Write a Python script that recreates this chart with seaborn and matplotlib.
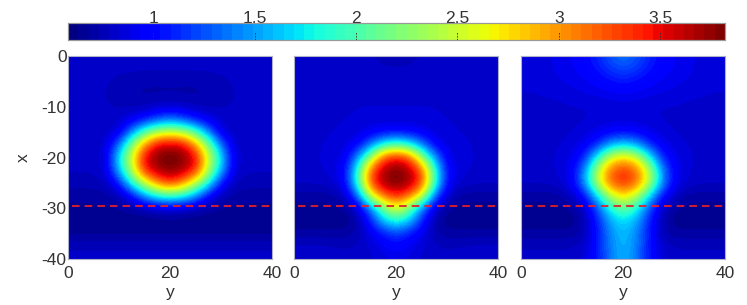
import numpy as np
import matplotlib
matplotlib.use('Agg')
import matplotlib.pyplot as plt
import seaborn as sns

# rows are x = 0, -2.5 ... -40, columns are y = 0, 2.5 ... 20 (the fields are mirrored about y=20)
x_values = [0, -2.5, -5, -7.5, -10, -12.5, -15, -17.5, -20, -22.5, -25, -27.5, -30, -32.5, -35, -37.5, -40]
y_values = [0, 2.5, 5, 7.5, 10, 12.5, 15, 17.5, 20, 22.5, 25, 27.5, 30, 32.5, 35, 37.5, 40]

left_half = [
    [.80, .80, .80, .80, .80, .80, .80, .80, .80],
    [.80, .80, .80, .80, .80, .80, .80, .80, .80],
    [.80, .80, .80, .79, .77, .75, .74, .74, .74],
    [.80, .80, .80, .78, .75, .73, .72, .72, .72],
    [.80, .80, .80, .79, .77, .76, .76, .78, .80],
    [.80, .80, .80, .80, .82, .88, 1.0, 1.2, 1.32],
    [.80, .80, .80, .80, .84, 1.4, 2.0, 2.35, 2.48],
    [.80, .80, .80, .82, 1.35, 2.2, 2.98, 3.55, 3.62],
    [.80, .80, .80, .86, 1.73, 2.55, 3.53, 3.79, 3.87],
    [.79, .79, .79, .84, 1.62, 2.43, 3.44, 3.7, 3.8],
    [.76, .76, .76, .78, 1.05, 1.9, 2.5, 3.1, 3.38],
    [.70, .70, .70, .71, .76, .98, 1.53, 1.88, 2.0],
    [.67, .67, .67, .67, .68, .70, .74, .80, .84],
    [.64, .64, .64, .64, .64, .64, .64, .64, .64],
    [.66, .66, .66, .66, .66, .66, .66, .66, .66],
    [.78, .78, .78, .78, .78, .78, .78, .78, .78],
    [.80, .80, .80, .80, .80, .80, .80, .80, .80],
]
middle_half = [
    [.80, .80, .80, .80, .80, .79, .78, .78, .78],
    [.80, .80, .80, .80, .79, .79, .79, .78, .78],
    [.82, .82, .82, .81, .80, .80, .80, .80, .80],
    [.83, .83, .83, .83, .83, .83, .83, .83, .83],
    [.83, .83, .83, .83, .83, .83, .83, .83, .83],
    [.83, .83, .83, .83, .83, .84, .85, .85, .85],
    [.83, .83, .83, .83, .84, .86, .90, .95, .97],
    [.83, .83, .83, .84, .86, .95, 1.37, 1.8, 1.98],
    [.83, .83, .83, .85, .90, 1.45, 2.3, 3.25, 3.46],
    [.82, .82, .83, .85, .97, 1.9, 3.2, 3.68, 3.82],
    [.80, .80, .80, .82, .96, 1.95, 3.3, 3.72, 3.85],
    [.70, .70, .70, .72, .80, 1.35, 2.6, 3.2, 3.45],
    [.66, .66, .66, .66, .68, .82, 1.4, 2.15, 2.65],
    [.64, .64, .64, .64, .64, .72, 1.08, 1.65, 1.85],
    [.70, .70, .70, .70, .70, .74, .90, 1.05, 1.2],
    [.80, .80, .80, .79, .78, .79, .84, .92, .98],
    [.82, .82, .82, .81, .80, .80, .82, .86, .90],
]
right_half = [
    [.86, .86, .87, .90, .93, 1.0, 1.1, 1.28, 1.38],
    [.86, .86, .87, .90, .93, .98, 1.06, 1.18, 1.25],
    [.85, .85, .86, .88, .90, .93, .97, 1.03, 1.08],
    [.83, .83, .84, .85, .87, .88, .90, .92, .94],
    [.82, .82, .82, .82, .83, .83, .84, .85, .85],
    [.82, .82, .82, .82, .82, .83, .84, .85, .86],
    [.82, .82, .82, .82, .83, .85, .90, .95, .98],
    [.82, .82, .82, .83, .85, .93, 1.1, 1.5, 1.65],
    [.82, .82, .82, .84, .90, 1.1, 1.85, 2.55, 2.75],
    [.82, .82, .82, .84, .93, 1.45, 2.45, 3.15, 3.36],
    [.80, .80, .80, .82, .93, 1.5, 2.5, 3.2, 3.4],
    [.70, .70, .70, .72, .80, 1.05, 1.75, 2.5, 2.8],
    [.66, .66, .66, .66, .68, .80, 1.25, 1.85, 2.15],
    [.64, .64, .64, .64, .64, .75, 1.1, 1.55, 1.7],
    [.70, .70, .70, .70, .70, .76, 1.05, 1.45, 1.62],
    [.78, .78, .78, .78, .78, .82, 1.05, 1.42, 1.6],
    [.80, .80, .80, .80, .80, .85, 1.05, 1.4, 1.58],
]

x_ticks = [0, -10, -20, -30, -40]
y_ticks = [0, 20, 40]
bar_ticks = [1, 1.5, 2, 2.5, 3, 3.5]
bar_labels = ['1', '1.5', '2', '2.5', '3', '3.5']
v_min, v_max = 0.58, 3.82
cut_x = -29.5
cut_start = 0.8

sns.set_theme(style='white')
plt.rcParams['font.family'] = ['Liberation Sans', 'DejaVu Sans']
W, H = 747, 305
fig = plt.figure(figsize=(W / 100, H / 100), dpi=100)
cax = fig.add_axes([68 / W, 1 - 40 / H, 657 / W, 17 / H])
cmap = plt.get_cmap('jet', 64)
tick_col = '#333333'


def row_of(x):
    return x_values.index(x) if x in x_values else -x / 2.5


def col_of(y):
    return y_values.index(y) if y in y_values else y / 2.5


for i, (half, left) in enumerate(zip([left_half, middle_half, right_half], [68, 294, 521])):
    half = np.array(half)
    field = np.hstack([half, half[:, -2::-1]])
    ax = fig.add_axes([left / W, 1 - 259 / H, 204 / W, 203 / H])
    sns.heatmap(field, ax=ax, cmap=cmap, vmin=v_min, vmax=v_max,
                cbar=i == 0, cbar_ax=cax if i == 0 else None,
                cbar_kws={'orientation': 'horizontal', 'ticks': bar_ticks},
                xticklabels=False, yticklabels=False)
    # smooth version of the same field on top of the heatmap cells
    ax.imshow(field, cmap=cmap, vmin=v_min, vmax=v_max, aspect='auto', interpolation='bicubic',
              interpolation_stage='data', extent=(-0.5, 16.5, 16.5, -0.5), zorder=2)
    ax.set_xlim(0, len(y_values) - 1)
    ax.set_ylim(len(x_values) - 1, 0)
    ax.plot([col_of(cut_start), col_of(y_values[-1])], [row_of(cut_x)] * 2, color='#e0202c', lw=1.3,
            dashes=(4.2, 2.8), zorder=3)
    ax.set_xticks([col_of(v) for v in y_ticks])
    ax.set_xticklabels([str(v) for v in y_ticks], fontsize=12.5, color=tick_col)
    ax.tick_params(axis='both', length=0, pad=5)
    ax.set_xlabel('y', fontsize=12.5, color=tick_col, labelpad=3)
    if i == 0:
        ax.set_yticks([row_of(v) for v in x_ticks])
        ax.set_yticklabels([str(v) for v in x_ticks], fontsize=12.5, color=tick_col, rotation=0)
        ax.tick_params(axis='y', pad=1)
        ax.set_ylabel('x', fontsize=12.5, color=tick_col, rotation=90, labelpad=8)
    for s in ax.spines.values():
        s.set_visible(True)
        s.set_color('#b0b0c8')
        s.set_linewidth(0.8)
        s.set_zorder(4)

cax.xaxis.set_ticks_position('top')
cax.set_xticks(bar_ticks)
cax.set_xticklabels(bar_labels, fontsize=12.5, color=tick_col)
cax.tick_params(axis='x', which='both', length=0, top=False, bottom=False, pad=-2)
for t in bar_ticks:
    cax.axvline(t, ymin=0, ymax=0.45, color='#333333', lw=0.6, ls=(0, (2, 1.5)), zorder=5)
for s in cax.spines.values():
    s.set_visible(True)
    s.set_color('#999999')
    s.set_linewidth(0.8)

fig.savefig('out.png', dpi=100)
